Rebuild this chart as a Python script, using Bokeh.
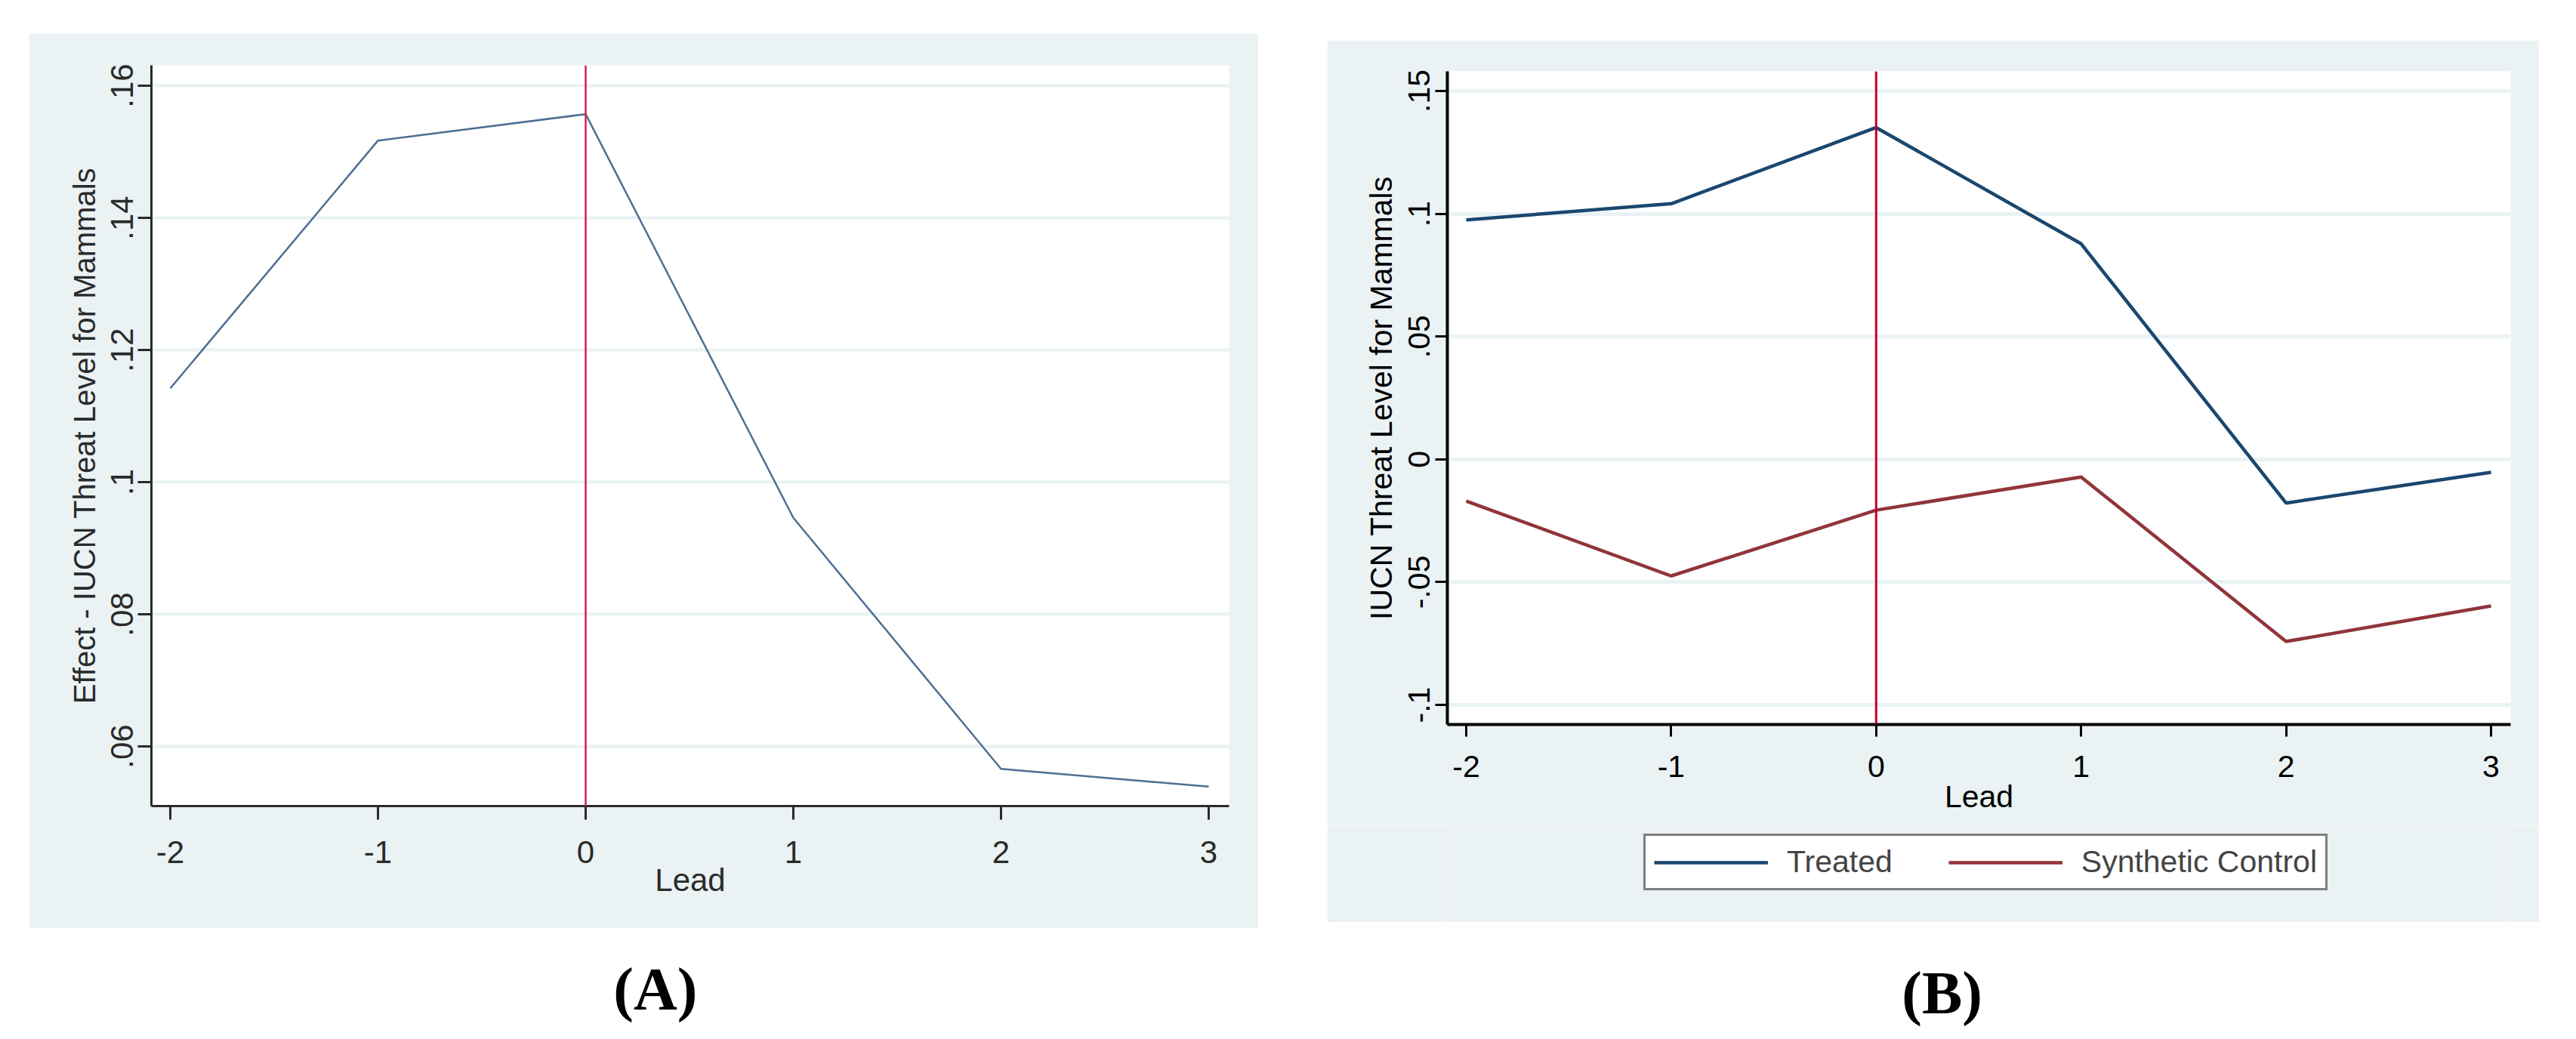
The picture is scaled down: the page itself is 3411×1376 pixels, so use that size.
from bokeh.plotting import figure
from bokeh.models import Range1d, FixedTicker, Span, Legend, LegendItem, Label, Spacer
from bokeh.layouts import column, row
from bokeh.embed import file_html
from bokeh.resources import INLINE

# ---------------- data ----------------
lead = [-2, -1, 0, 1, 2, 3]
lead_labels = ["-2", "-1", "0", "1", "2", "3"]
effect = [0.1142, 0.1517, 0.1557, 0.0946, 0.0566, 0.0539]
treated = [0.0975, 0.1041, 0.1351, 0.0878, -0.0178, -0.0053]
synthetic = [-0.0170, -0.0475, -0.0207, -0.0072, -0.0742, -0.0597]
treatment_lead = 0

a_yticks = [0.06, 0.08, 0.10, 0.12, 0.14, 0.16]
a_ylabels = [".06", ".08", ".1", ".12", ".14", ".16"]
b_yticks = [-0.10, -0.05, 0.0, 0.05, 0.10, 0.15]
b_ylabels = ["-.1", "-.05", "0", ".05", ".1", ".15"]
series_names = ["Treated", "Synthetic Control"]
series_colors = ["#1a476f", "#90353b"]

BG = "#eaf2f3"
FONT = "Liberation Sans"


def style(p, yticks, ylabels, fs, color, axis_w, tick_len, grid_w,
          xlab_standoff, ylab_standoff, xtitle_standoff, ytitle_standoff):
    p.background_fill_color = "white"
    p.border_fill_color = BG
    p.outline_line_color = None
    p.xgrid.visible = False
    yt = FixedTicker(ticks=yticks)
    p.yaxis.ticker = yt
    p.ygrid.ticker = yt
    p.ygrid.grid_line_color = BG
    p.ygrid.grid_line_width = grid_w
    p.yaxis.major_label_overrides = {t: l for t, l in zip(yticks, ylabels)}
    xt = FixedTicker(ticks=lead)
    p.xaxis.ticker = xt
    p.xaxis.major_label_overrides = {t: l for t, l in zip(lead, lead_labels)}
    p.yaxis.major_label_orientation = "vertical"
    for ax in (p.xaxis, p.yaxis):
        ax.axis_line_color = color
        ax.axis_line_width = axis_w
        ax.major_tick_line_color = color
        ax.major_tick_line_width = 3
        ax.major_tick_out = tick_len
        ax.major_tick_in = 0
        ax.minor_tick_line_color = None
        ax.major_label_text_font = FONT
        ax.major_label_text_font_size = f"{fs}px"
        ax.major_label_text_color = color
        ax.axis_label_text_font = FONT
        ax.axis_label_text_font_style = "normal"
        ax.axis_label_text_color = color
    p.xaxis.major_label_standoff = xlab_standoff
    p.yaxis.major_label_standoff = ylab_standoff
    p.xaxis.axis_label_standoff = xtitle_standoff
    p.yaxis.axis_label_standoff = ytitle_standoff


def label_fig(w, h, txt, left, y):
    f = figure(width=w, height=h, x_range=Range1d(0, w), y_range=Range1d(0, h),
               x_axis_type=None, y_axis_type=None,
               min_border=0, output_backend="svg", toolbar_location=None)
    f.grid.visible = False
    f.outline_line_color = None
    f.background_fill_color = "white"
    f.border_fill_color = "white"
    f.add_layout(Label(x=left, y=y, text=txt, text_align="left", text_baseline="middle",
                       text_font="Liberation Serif", text_font_style="bold",
                       text_font_size="80px", text_color="black"))
    return f


# ---------------- panel A ----------------
pa = figure(frame_width=1427, frame_height=981,
            x_range=Range1d(-2.0909, 3.0982), y_range=Range1d(0.05097, 0.16309),
            min_border_left=162, min_border_right=39, min_border_top=42, min_border_bottom=162,
            output_backend="svg", toolbar_location=None)
style(pa, a_yticks, a_ylabels, 42, "#2a2a2a", 3, 18, 4, 28, 6, -4, 11)
pa.xaxis.axis_label = "Lead"
pa.yaxis.axis_label = "Effect - IUCN Threat Level for Mammals"
pa.xaxis.axis_label_text_font_size = "42px"
pa.yaxis.axis_label_text_font_size = "40px"
pa.line(lead, effect, line_color="#4e6f93", line_width=2.5)
pa.add_layout(Span(location=treatment_lead, dimension="height", line_color="#d8204c", line_width=2.5))

labA = label_fig(1628, 131, "(A)", 698, 51)

# ---------------- panel B ----------------
pb = figure(frame_width=1408, frame_height=865,
            x_range=Range1d(-2.0921, 3.0958), y_range=Range1d(-0.108, 0.158),
            min_border_left=159, min_border_right=38, min_border_top=41, min_border_bottom=134,
            output_backend="svg", toolbar_location=None)
style(pb, b_yticks, b_ylabels, 41, "black", 4, 16, 5, 25, 7, 0, 11)
pb.xaxis.axis_label = "Lead"
pb.yaxis.axis_label = "IUCN Threat Level for Mammals"
pb.xaxis.axis_label_text_font_size = "41px"
pb.yaxis.axis_label_text_font_size = "41px"
pb.line(lead, treated, line_color=series_colors[0], line_width=4.5)
pb.line(lead, synthetic, line_color=series_colors[1], line_width=4.5)
pb.add_layout(Span(location=treatment_lead, dimension="height", line_color="#c4002f", line_width=3))

# legend strip (same background as panel B); its lines lie outside this strip's x range
pleg = figure(width=1605, height=128, x_range=Range1d(100, 101), y_range=Range1d(0, 1),
              x_axis_type=None, y_axis_type=None,
              min_border=0, output_backend="svg", toolbar_location=None)
pleg.grid.visible = False
pleg.outline_line_color = None
pleg.background_fill_color = BG
pleg.border_fill_color = BG
items = []
for name, col, ys in zip(series_names, series_colors, (treated, synthetic)):
    rr = pleg.line(lead, ys, line_color=col, line_width=4.5)
    items.append(LegendItem(label=name, renderers=[rr]))
legend = Legend(items=items, orientation="horizontal", location=(260, 42), margin=0,
                border_line_color="black", border_line_width=3,
                background_fill_color="white", background_fill_alpha=1.0,
                label_text_font=FONT, label_text_font_size="41px",
                glyph_width=151, glyph_height=30, label_standoff=25,
                spacing=74, padding=11)
pleg.add_layout(legend, "center")

labB = label_fig(1605, 139, "(B)", 686, 46)

layout = column(Spacer(height=44),
                row(Spacer(width=38), column(pa, labA), Spacer(width=91),
                    column(Spacer(height=9), pb, pleg, labB)))

open("out.html", "w").write(file_html(layout, INLINE))
